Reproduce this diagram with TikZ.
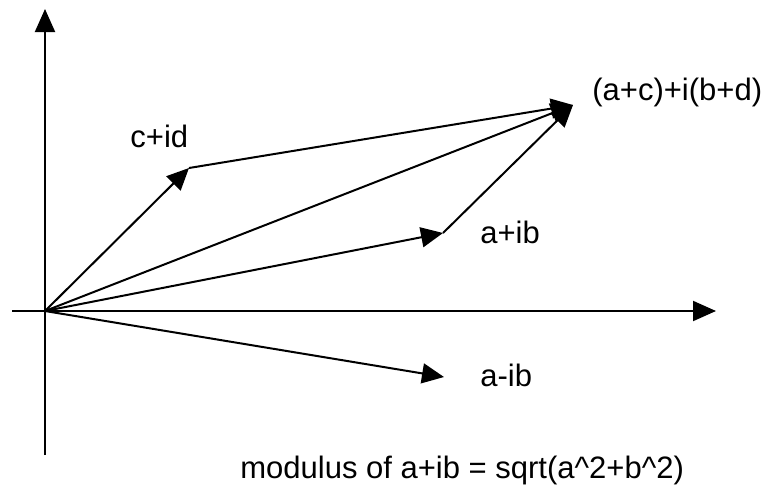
\documentclass[tikz,border=0pt]{standalone}
\usepackage{fontspec}
\setmainfont{Liberation Sans}
\usetikzlibrary{arrows.meta}

\begin{document}
\begin{tikzpicture}[
  x=0.5pt, y=-0.5pt,
  axis/.style={-{Triangle[length=11.5pt,width=10pt]}, line width=1pt, black},
  vec/.style={-{Triangle[length=11pt,width=10pt]}, line width=1pt, black},
  lbl/.style={anchor=base west, inner sep=0pt, font=\fontsize{15.5}{18}\selectfont}
]
\useasboundingbox (0,0) rectangle (766,489);

\coordinate (O) at (45,311);
\coordinate (xl) at (12,311);
\coordinate (xr) at (716,311);
\coordinate (yb) at (45,455);
\coordinate (yt) at (45,9);

\coordinate (cd) at (189,168);
\coordinate (ab) at (443,233);
\coordinate (amb) at (444,377);
\coordinate (sum) at (573,105);

\node[lbl] (cdlabel) at (130,147) {c+id};
\node[lbl] (ablabel) at (480,243) {a+ib};
\node[lbl] (amblabel) at (480,386) {a-ib};
\node[lbl] (sumlabel) at (592,100) {(a+c)+i(b+d)};
\node[lbl] (modlabel) at (240,478) {modulus of a+ib = sqrt(a\^{}2+b\^{}2)};

\draw[axis] (xl) -- (xr);
\draw[axis] (yb) -- (yt);

\draw[vec] (O) -- (cd);
\draw[vec] (O) -- (ab);
\draw[vec] (O) -- (amb);
\draw[vec] (O) -- (sum);
\draw[vec] (cd) -- (sum);
\draw[vec] (ab) -- (sum);
\end{tikzpicture}
\end{document}
